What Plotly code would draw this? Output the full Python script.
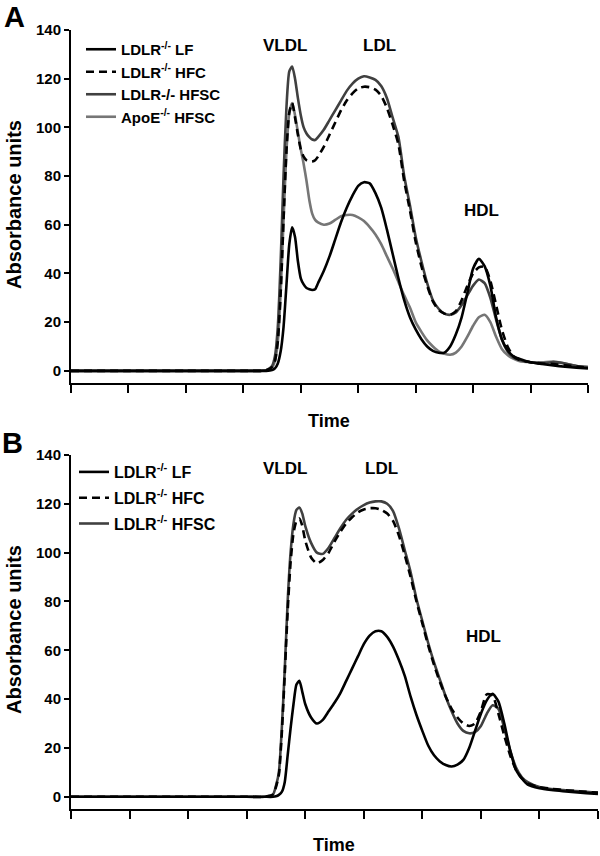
import plotly.graph_objects as go

# ---------------- data ----------------
# Panel A
t_a = [0, 10, 20, 30, 33, 34, 35, 35.5, 36, 36.5, 37, 37.5, 38, 38.5, 39, 39.5, 40, 40.5, 41, 41.5, 42, 42.5, 43, 44, 45, 46, 47, 48, 49, 50,
       51, 52, 53, 54, 55, 56, 57, 58, 59, 60, 61, 62, 63, 64, 65, 66, 67, 68, 69, 70, 71, 72, 73, 74, 75, 76, 77, 78, 80, 82, 84, 86, 88, 90]
a_lf = [0, 0, 0, 0, 0, 0, 0.3, 1, 3, 8, 18, 35, 52, 59, 55, 45, 38, 35.5, 34, 33.5, 33.2, 33.5, 36, 41, 47, 54, 61, 67, 72, 76,
        77.5, 77, 73, 67, 58, 48, 38, 29, 22, 17, 13, 10, 8.2, 7.4, 7.5, 10, 15, 22, 32, 42, 46, 43, 35, 22, 13, 8.5, 6, 5, 3.5, 2.8, 2.2, 1.7, 1.3, 1]
a_hfc = [0, 0, 0, 0, 0, 0.2, 1.5, 4, 12, 32, 62, 90, 106, 110, 104, 97, 91, 88, 86.5, 86, 86, 86.5, 88, 92, 97, 102, 107, 111, 114, 116,
         116.7, 116.5, 115.5, 113, 108, 101, 93, 78, 66, 53, 43, 35, 28.5, 25, 23.5, 23, 24.5, 29, 35, 40, 42.5, 42.8, 37, 27, 17, 10, 6, 4.5, 3.5, 3, 2.8, 2.3, 1.8, 1.3]
a_hfsc = [0, 0, 0, 0, 0, 0.3, 2, 6, 18, 45, 80, 108, 123, 125, 120, 112, 105, 100, 97.5, 96, 95, 94.8, 96, 99, 103, 107, 111, 115, 118, 120,
          121, 120.5, 119.5, 117, 112, 104, 96, 80, 68, 55, 45, 36, 29, 25.5, 23.5, 23, 24, 27, 31, 35, 37.5, 36, 30, 21, 13, 8, 5.5, 4.5, 3.5, 3, 3.6, 3, 2, 1.5]
a_apoe = [0, 0, 0, 0, 0, 0.2, 1.5, 4, 12, 32, 62, 90, 106, 110, 105, 98, 91, 85, 78, 70, 64.5, 62, 61, 60, 60.5, 62, 63.5, 64, 64, 63,
          61.5, 59, 56, 52, 47, 42, 36.5, 31, 26, 20, 16, 12.5, 10, 8, 7, 6.6, 7.5, 10, 14, 18.5, 22, 23, 20, 14, 9, 6.5, 5, 4, 3.5, 3.5, 3.8, 3, 2, 1.5]

# Panel B
t_b = [0, 10, 20, 30, 33, 34.5, 35, 35.5, 36, 36.5, 37, 37.5, 38, 38.5, 39, 39.5, 40, 41, 42, 43, 44, 45, 46, 47, 48, 49, 50,
       51, 52, 53, 54, 55, 56, 57, 58, 59, 60, 61, 62, 63, 64, 65, 66, 67, 68, 69, 70, 71, 72, 73, 74, 75, 76, 77, 78, 80, 82, 84, 86, 88, 90]
b_lf = [0, 0, 0, 0, 0, 0, 0.2, 0.8, 2, 6, 17, 28, 38, 46, 47.5, 43, 38, 32.5, 30, 31.5, 35, 38.5, 42.5, 47.5, 52.5, 57.5, 62.5,
        66, 67.8, 67.8, 65.5, 61.5, 56, 49.5, 41, 33.5, 27, 21, 17, 14.5, 13, 12.4, 13.2, 15.1, 20, 27, 34, 39.5, 42.2, 39, 30, 19, 11, 7.5, 5, 3.5, 2.8, 2.3, 1.9, 1.5, 1.2]
b_hfc = [0, 0, 0, 0, 0, 1, 4, 9, 26, 50, 76, 96, 108, 113, 114, 111, 105, 98, 95.6, 97, 100, 104.5, 108.5, 112, 114.5, 116.5, 117.7,
         118.2, 118.2, 117.5, 116, 113, 107, 99, 90, 80, 71, 62, 54, 47, 41, 36, 32.5, 30, 29, 30, 35, 42, 41.5, 34, 25, 17, 11, 7.5, 5.5, 4, 3.3, 2.8, 2.4, 2, 1.7]
b_hfsc = [0, 0, 0, 0, 0, 1, 4.5, 10, 28, 52, 80, 100, 112, 117.5, 118.5, 116, 111, 104, 100, 99.5, 102, 106, 110, 113.5, 116, 118, 119.5,
          120.5, 121, 121, 120, 117, 110, 101, 92, 81, 72, 63, 55, 48, 41, 35, 30, 27, 26, 26.5, 29, 34, 37.5, 36, 28, 19, 12, 8, 6, 4, 3.2, 2.8, 2.4, 2, 1.6]

y_ticks = [0, 20, 40, 60, 80, 100, 120, 140]
x_ticks = [0, 10, 20, 30, 40, 50, 60, 70, 80, 90]

names_a = ["LDLR<sup>-/-</sup> LF", "LDLR<sup>-/-</sup> HFC", "LDLR-/- HFSC", "ApoE<sup>-/-</sup> HFSC"]
names_b = ["LDLR<sup>-/-</sup> LF", "LDLR<sup>-/-</sup> HFC", "LDLR<sup>-/-</sup> HFSC"]
peaks_a = [("VLDL", 37.2, 133.8), ("LDL", 53.7, 133.8), ("HDL", 71.4, 66.0)]
peaks_b = [("VLDL", 36.5, 134.3), ("LDL", 53.1, 134.3), ("HDL", 70.4, 65.5)]

# ---------------- figure ----------------
W, H = 600, 856
OFF = 0  # page body margin removed by post_script below
FONT = "Liberation Sans, Arial, sans-serif"
fig = go.Figure()

def px_x(p):
    return (p - OFF) / W

def px_y(p):
    return 1 - (p - OFF) / H

styles = {
    "lf": dict(color="#000000", width=2.6),
    "hfc": dict(color="#000000", width=2.6, dash="8px,5px"),
    "hfsc": dict(color="#404040", width=2.6),
    "apoe": dict(color="#767676", width=2.6),
}

series_a = [(names_a[0], a_lf, "lf"), (names_a[1], a_hfc, "hfc"), (names_a[2], a_hfsc, "hfsc"), (names_a[3], a_apoe, "apoe")]
for name, ys, st in [series_a[3], series_a[2], series_a[1], series_a[0]]:
    fig.add_trace(go.Scatter(x=t_a, y=ys, name=name, mode="lines", line=dict(shape="spline", smoothing=0.6, **styles[st]),
                             xaxis="x", yaxis="y", legend="legend", legendrank=names_a.index(name)))

series_b = [(names_b[0], b_lf, "lf"), (names_b[1], b_hfc, "hfc"), (names_b[2], b_hfsc, "hfsc")]
for name, ys, st in [series_b[2], series_b[1], series_b[0]]:
    fig.add_trace(go.Scatter(x=t_b, y=ys, name=name, mode="lines", line=dict(shape="spline", smoothing=0.6, **styles[st]),
                             xaxis="x2", yaxis="y2", legend="legend2", legendgroup="b" + st,
                             legendrank=names_b.index(name)))

axis_common = dict(showline=True, linecolor="black", linewidth=2, ticks="outside", tickcolor="black",
                   tickwidth=2, showgrid=False, zeroline=False, mirror=False, automargin=False)
ytick_font = dict(family=FONT, size=15, color="black", weight="bold")

fig.update_layout(
    template="none",
    width=W, height=H, paper_bgcolor="white", plot_bgcolor="white",
    margin=dict(l=0, r=0, t=0, b=0, autoexpand=False),
    showlegend=True,
    xaxis=dict(domain=[px_x(71), px_x(588)], range=[0, 90], tickvals=x_ticks, showticklabels=False,
               ticklen=8, anchor="y", **axis_common),
    yaxis=dict(domain=[px_y(383), px_y(30)], range=[-5, 140], tickvals=y_ticks, ticklen=5,
               tickfont=ytick_font, anchor="x", **axis_common),
    xaxis2=dict(domain=[px_x(71), px_x(598)], range=[0, 90], tickvals=x_ticks, showticklabels=False,
                ticklen=8, anchor="y2", **axis_common),
    yaxis2=dict(domain=[px_y(809), px_y(455)], range=[-5, 140], tickvals=y_ticks, ticklen=5,
                tickfont=ytick_font, anchor="x2", **axis_common),
    legend=dict(x=px_x(81), y=px_y(33), xanchor="left", yanchor="top", bgcolor="rgba(0,0,0,0)",
                font=dict(family=FONT, size=15, color="black", weight="bold"), itemwidth=30,
                traceorder="normal"),
    legend2=dict(x=px_x(74), y=px_y(455), xanchor="left", yanchor="top", bgcolor="rgba(0,0,0,0)",
                 font=dict(family=FONT, size=16, color="black", weight="bold"), itemwidth=30,
                 tracegroupgap=2, traceorder="grouped"),
)

ann_font = dict(family=FONT, size=17, color="black", weight="bold")
for label, x, y in peaks_a:
    fig.add_annotation(x=x, y=y, xref="x", yref="y", text=label, showarrow=False, font=ann_font,
                       xanchor="center", yanchor="middle")
for label, x, y in peaks_b:
    fig.add_annotation(x=x, y=y, xref="x2", yref="y2", text=label, showarrow=False, font=ann_font,
                       xanchor="center", yanchor="middle")

title_font = dict(family=FONT, size=18, color="black", weight="bold")
ytitle_font = dict(family=FONT, size=20, color="black", weight="bold")
for tx, ty in [(329, 421), (334, 845)]:
    fig.add_annotation(x=px_x(tx), y=px_y(ty), xref="paper", yref="paper", text="Time", showarrow=False,
                       font=title_font, xanchor="center", yanchor="middle")
for ty in [205, 630]:
    fig.add_annotation(x=px_x(14), y=px_y(ty), xref="paper", yref="paper", text="Absorbance units", textangle=-90,
                       showarrow=False, font=ytitle_font, xanchor="center", yanchor="middle")
panel_font = dict(family=FONT, size=29, color="black", weight="bold")
fig.add_annotation(x=px_x(14), y=px_y(17), xref="paper", yref="paper", text="A", showarrow=False, font=panel_font,
                   xanchor="center", yanchor="middle")
fig.add_annotation(x=px_x(12), y=px_y(443), xref="paper", yref="paper", text="B", showarrow=False, font=panel_font,
                   xanchor="center", yanchor="middle")

fig.write_html("out.html", config={"displayModeBar": False},
               post_script="document.body.style.margin='0px';")
